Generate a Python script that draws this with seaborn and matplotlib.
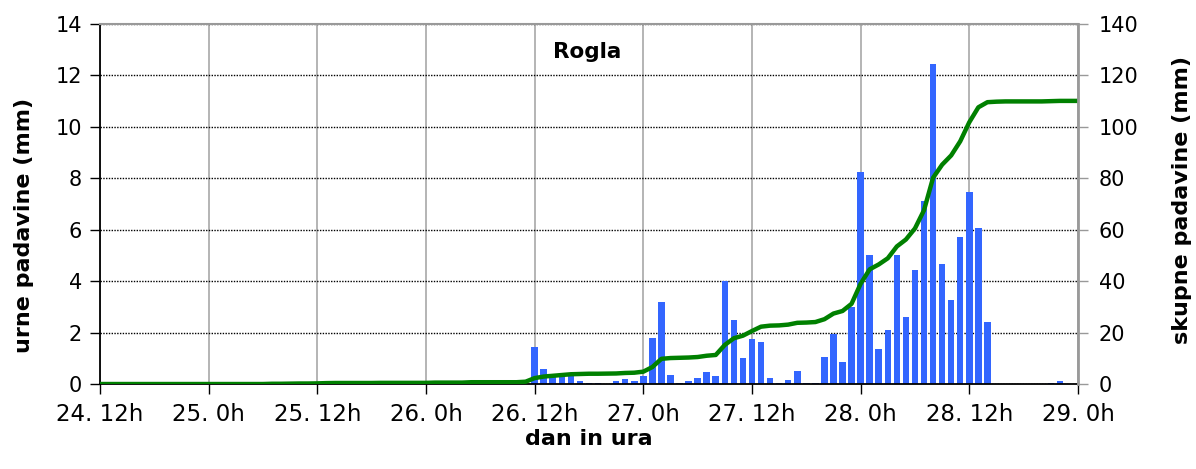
import numpy as np
import matplotlib
matplotlib.use("Agg")
import matplotlib.pyplot as plt
import seaborn as sns

# -------------------------------
# Data (hours from 24. 12h)
# -------------------------------
hours = list(range(109))

hourly = [0] * 25 + [0.08] + [0] * 22 + [
    1.45, 0.6, 0.3, 0.3, 0.3, 0.1, 0.05, 0.05, 0, 0.1, 0.2, 0.1,      # 48-59
    0.3, 1.8, 3.2, 0.35, 0.05, 0.1, 0.25, 0.45, 0.3, 4.0, 2.5, 1.0,   # 60-71
    1.75, 1.65, 0.25, 0.05, 0.15, 0.5, 0.03, 0.05, 1.05, 1.95, 0.85, 3.0,  # 72-83
    8.25, 5.0, 1.35, 2.1, 5.0, 2.6, 4.45, 7.1, 12.45, 4.65, 3.25, 5.7,     # 84-95
    7.45, 6.05, 2.4, 0, 0, 0, 0, 0, 0, 0.04, 0.12, 0, 0,              # 96-108
]

cumulative = [0] * 19 + [0.1, 0.1, 0.15, 0.2, 0.2, 0.25, 0.35] + [0.4] * 5 \
    + [0.45] * 6 + [0.55] * 4 + [0.7] * 6 + [0.9] + [
    2.3, 2.9, 3.2, 3.5, 3.8, 3.9, 4.0, 4.0, 4.05, 4.1, 4.3, 4.4,      # 48-59
    4.8, 6.6, 9.8, 10.1, 10.2, 10.3, 10.5, 11.0, 11.3, 15.2, 17.8, 18.8,  # 60-71
    20.6, 22.3, 22.7, 22.8, 23.1, 23.8, 23.9, 24.1, 25.2, 27.4, 28.4, 31.2,  # 72-83
    39.0, 44.6, 46.5, 48.9, 53.5, 56.2, 60.5, 67.6, 80.2, 85.3, 88.9, 94.4,  # 84-95
    101.8, 107.6, 109.6, 109.8, 109.9, 109.9, 109.9, 109.9, 109.9,    # 96-104
    110.0, 110.1, 110.1, 110.1,                                       # 105-108
]

tick_pos = list(range(0, 109, 12))
tick_labels = ["24. 12h", "25. 0h", "25. 12h", "26. 0h", "26. 12h",
               "27. 0h", "27. 12h", "28. 0h", "28. 12h", "29. 0h"]

# -------------------------------
# Plot
# -------------------------------
sns.set_style("white")
plt.rcParams["font.family"] = ["DejaVu Sans"]
plt.rcParams["text.color"] = "black"
plt.rcParams["axes.labelcolor"] = "black"
plt.rcParams["xtick.color"] = "black"
plt.rcParams["ytick.color"] = "black"

fig = plt.figure(figsize=(11.96, 4.69), dpi=100)
ax = fig.add_axes([0.0836, 0.1812, 0.8177, 0.7676])

ax.set_axisbelow(True)
ax.grid(axis="y", color="black", linestyle=(0, (1, 1)), linewidth=1.0)
ax.grid(axis="x", color="#a8a8a8", linestyle="-", linewidth=1.2)

sns.barplot(x=hours, y=hourly, native_scale=True, color="#3366ff",
            saturation=1, width=0.72, errorbar=None, linewidth=0, ax=ax)

ax.set_xlim(0, 108)
ax.set_ylim(0, 14)
ax.set_yticks(range(0, 15, 2))
ax.set_xticks(tick_pos)
ax.set_xticklabels(tick_labels)
ax.tick_params(axis="x", labelsize=16.5, direction="out", length=7,
               width=1, color="black", pad=7)
ax.tick_params(axis="y", labelsize=15, direction="out", length=7,
               width=1, color="black", pad=6)
ax.tick_params(bottom=True, left=True)

ax.set_xlabel("dan in ura", fontsize=16, fontweight="bold")
ax.set_ylabel("urne padavine (mm)", fontsize=16, fontweight="bold")
ax.xaxis.set_label_coords(0.5, -0.125)
ax.yaxis.set_label_coords(-0.067, 0.44)

for side in ["left", "bottom"]:
    ax.spines[side].set_color("black")
    ax.spines[side].set_linewidth(1.3)
ax.spines["top"].set_color("#999999")
ax.spines["top"].set_linewidth(1.5)
ax.spines["right"].set_visible(False)

ax.text(53.8, 12.9, "Rogla", fontsize=15.5, fontweight="bold",
        ha="center", va="center")

# cumulative line on right axis
ax2 = ax.twinx()
sns.lineplot(x=hours, y=cumulative, color="#008000", linewidth=3.2, ax=ax2)
ax2.set_ylim(0, 140)
ax2.set_yticks(range(0, 141, 20))
ax2.tick_params(axis="y", labelsize=15, direction="out", length=7,
                width=1, color="#999999", labelcolor="black", pad=8)
ax2.set_ylabel("skupne padavine (mm)", fontsize=16, fontweight="bold")
ax2.yaxis.set_label_coords(1.096, 0.51)
for side in ["left", "bottom", "top"]:
    ax2.spines[side].set_visible(False)
ax2.spines["right"].set_color("#999999")
ax2.spines["right"].set_linewidth(2)
ax2.set_xlim(0, 108)

plt.savefig("out.png", dpi=100)
